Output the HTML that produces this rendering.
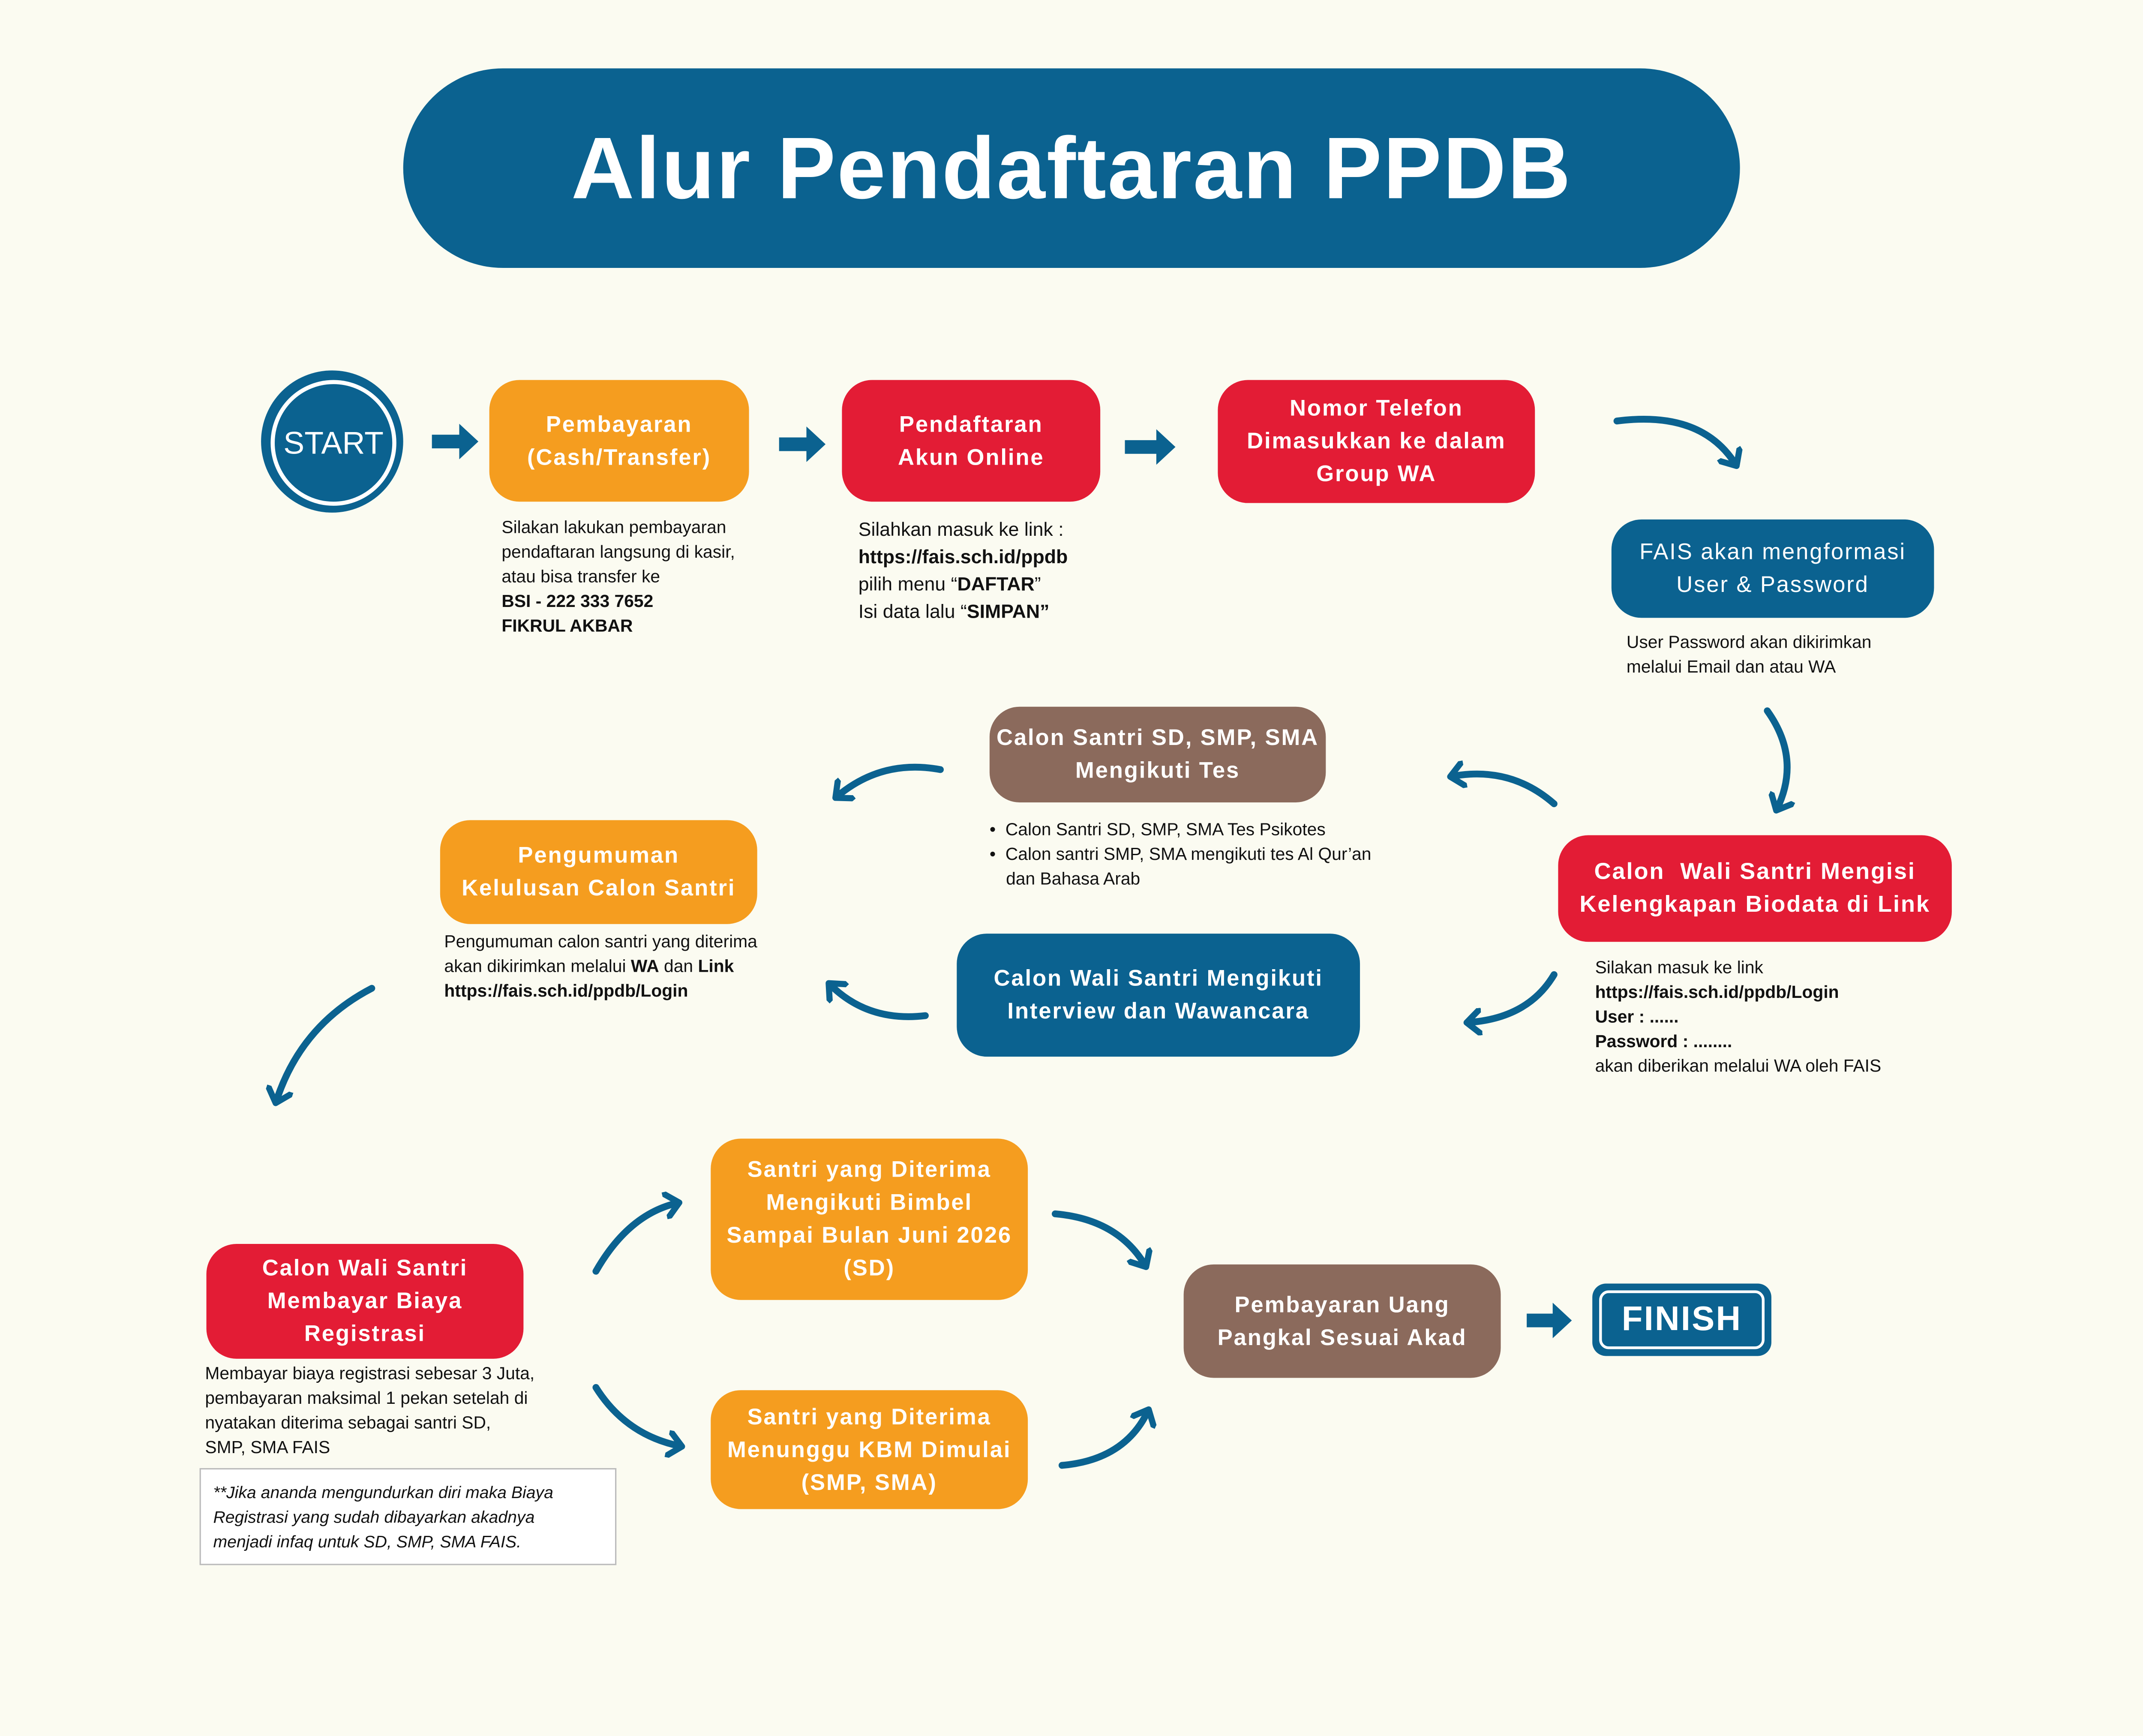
<!DOCTYPE html>
<html><head><meta charset="utf-8"><style>
html,body{margin:0;padding:0;background:#fbfbf1;}
body{width:5250px;height:4050px;overflow:hidden;}
#w{position:absolute;left:0;top:0;width:1646px;height:1270px;transform:scale(3.189,3.189);transform-origin:0 0;font-family:"Liberation Sans",sans-serif;}
.b{position:absolute;display:flex;align-items:center;justify-content:center;text-align:center;color:#fff;font-weight:bold;font-size:16.5px;letter-spacing:0.9px;line-height:24px;border-radius:22px;}
.o{background:#f59d1f}.r{background:#e31c35}.u{background:#0b6290}.br{background:#8b6a5c}
.c{position:absolute;font-size:12.8px;line-height:18px;color:#111;}
.c b{font-weight:bold}
svg{position:absolute;left:0;top:0}
</style></head><body><div id="w">
<div style="position:absolute;left:295px;top:50px;width:978px;height:146px;border-radius:73px;background:#0b6290;color:#fff;font-weight:bold;font-size:64px;display:flex;align-items:center;justify-content:center;letter-spacing:1px;">Alur Pendaftaran PPDB</div>

<div style="position:absolute;left:191px;top:271px;width:104px;height:104px;border-radius:50%;background:#0b6290;"></div>
<div style="position:absolute;left:198px;top:278px;width:86px;height:86px;border-radius:50%;border:3px solid #fff;background:#0b6290;color:#fff;font-size:23px;display:flex;align-items:center;justify-content:center;">START</div>

<div class="b o" style="left:358px;top:278px;width:190px;height:89px;">Pembayaran<br>(Cash/Transfer)</div>
<div class="c" style="left:367px;top:377px;">Silakan lakukan pembayaran<br>pendaftaran langsung di kasir,<br>atau bisa transfer ke<br><b>BSI - 222 333 7652</b><br><b>FIKRUL AKBAR</b></div>

<div class="b r" style="left:616px;top:278px;width:189px;height:89px;">Pendaftaran<br>Akun Online</div>
<div class="c" style="left:628px;top:377px;font-size:14px;line-height:20px;">Silahkan masuk ke link :<br><b>https://fais.sch.id/ppdb</b><br>pilih menu “<b>DAFTAR</b>”<br>Isi data lalu “<b>SIMPAN”</b></div>

<div class="b r" style="left:891px;top:278px;width:232px;height:90px;">Nomor Telefon<br>Dimasukkan ke dalam<br>Group WA</div>

<div class="b u" style="left:1179px;top:380px;width:236px;height:72px;font-weight:normal;">FAIS akan mengformasi<br>User &amp; Password</div>
<div class="c" style="left:1190px;top:461px;">User Password akan dikirimkan<br>melalui Email dan atau WA</div>

<div class="b r" style="left:1140px;top:611px;width:288px;height:78px;font-size:17px;">Calon&nbsp; Wali Santri Mengisi<br>Kelengkapan Biodata di Link</div>
<div class="c" style="left:1167px;top:699px;">Silakan masuk ke link<br><b>https://fais.sch.id/ppdb/Login</b><br><b>User : ......</b><br><b>Password : ........</b><br>akan diberikan melalui WA oleh FAIS</div>

<div class="b br" style="left:724px;top:517px;width:246px;height:70px;">Calon Santri SD, SMP, SMA<br>Mengikuti Tes</div>
<div class="c" style="left:724px;top:598px;"><div>•&nbsp; Calon Santri SD, SMP, SMA Tes Psikotes</div><div>•&nbsp; Calon santri SMP, SMA mengikuti tes Al Qur’an</div><div style="padding-left:12px">dan Bahasa Arab</div></div>

<div class="b u" style="left:700px;top:683px;width:295px;height:90px;">Calon Wali Santri Mengikuti<br>Interview dan Wawancara</div>

<div class="b o" style="left:322px;top:600px;width:232px;height:76px;">Pengumuman<br>Kelulusan Calon Santri</div>
<div class="c" style="left:325px;top:680px;">Pengumuman calon santri yang diterima<br>akan dikirimkan melalui <b>WA</b> dan <b>Link</b><br><b>https://fais.sch.id/ppdb/Login</b></div>

<div class="b r" style="left:151px;top:910px;width:232px;height:84px;">Calon Wali Santri<br>Membayar Biaya<br>Registrasi</div>
<div class="c" style="left:150px;top:996px;">Membayar biaya registrasi sebesar 3 Juta,<br>pembayaran maksimal 1 pekan setelah di<br>nyatakan diterima sebagai santri SD,<br>SMP, SMA FAIS</div>
<div class="c" style="left:146px;top:1074px;width:286px;height:53px;border:1px solid #bbb;padding:8px 8px 8px 9px;font-style:italic;font-size:12.3px;background:#fff;">**Jika ananda mengundurkan diri maka Biaya<br>Registrasi yang sudah dibayarkan akadnya<br>menjadi infaq untuk SD, SMP, SMA FAIS.</div>

<div class="b o" style="left:520px;top:833px;width:232px;height:118px;">Santri yang Diterima<br>Mengikuti Bimbel<br>Sampai Bulan Juni 2026<br>(SD)</div>
<div class="b o" style="left:520px;top:1017px;width:232px;height:87px;">Santri yang Diterima<br>Menunggu KBM Dimulai<br>(SMP, SMA)</div>

<div class="b br" style="left:866px;top:925px;width:232px;height:83px;">Pembayaran Uang<br>Pangkal Sesuai Akad</div>

<div style="position:absolute;left:1165px;top:939px;width:131px;height:53px;border-radius:10px;background:#0b6290;"></div>
<div style="position:absolute;left:1170px;top:944px;width:117px;height:39px;border-radius:7px;border:2px solid #fff;color:#fff;font-weight:bold;font-size:25px;display:flex;align-items:center;justify-content:center;letter-spacing:1px;">FINISH</div>

<svg width="1568" height="1210" viewBox="0 0 1568 1210">
<defs>
<marker id="h" markerWidth="4" markerHeight="4" refX="2" refY="2" orient="auto" markerUnits="strokeWidth"><path d="M0.3,0.3 L2.2,2 L0.3,3.7" fill="none" stroke="#0b6290" stroke-width="0.9" stroke-linecap="round" stroke-linejoin="round"/></marker>
</defs>
<g fill="#0b6290">
<path d="M316,318 h20 v-8 l14,13 l-14,13 v-8 h-20z"/>
<path d="M570,320 h20 v-8 l14,13 l-14,13 v-8 h-20z"/>
<path d="M823,322 h23 v-8 l14,13 l-14,13 v-8 h-23z"/>
<path d="M1117,961 h19 v-8 l14,13 l-14,13 v-8 h-19z"/>
</g>
<g fill="none" stroke="#0b6290" stroke-width="5" stroke-linecap="round" marker-end="url(#h)">
<path d="M1183,308 Q1245,300 1270,340"/>
<path d="M1293,520 Q1318,555 1300,592"/>
<path d="M1137,588 Q1105,560 1062,568"/>
<path d="M1137,713 Q1118,745 1074,748"/>
<path d="M688,563 Q645,555 612,583"/>
<path d="M677,743 Q635,748 607,720"/>
<path d="M272,723 Q220,750 202,806"/>
<path d="M436,930 Q460,888 496,880"/>
<path d="M436,1015 Q458,1050 498,1058"/>
<path d="M772,888 Q818,892 838,926"/>
<path d="M777,1072 Q823,1068 840,1032"/>
</g>
</svg>
</div></body></html>
